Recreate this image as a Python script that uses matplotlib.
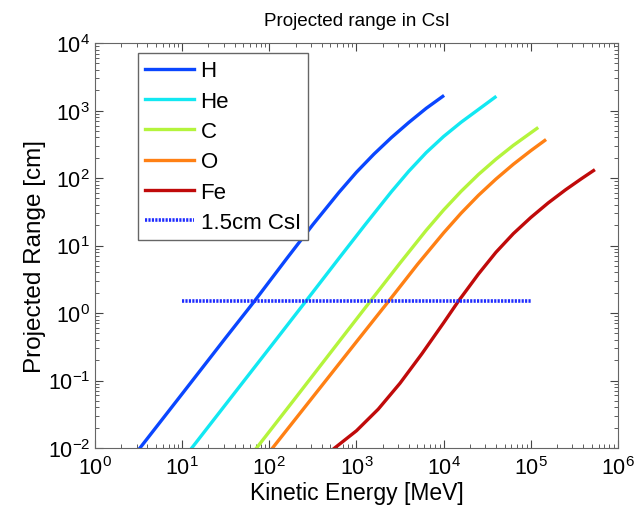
import numpy as np
import matplotlib
matplotlib.use("Agg")
import matplotlib.pyplot as plt

plt.rcParams['font.family'] = ['Liberation Sans', 'DejaVu Sans']
plt.rcParams['mathtext.fontset'] = 'custom'
plt.rcParams['mathtext.rm'] = 'Liberation Sans'
plt.rcParams['mathtext.it'] = 'Liberation Sans'

# kinetic energy [MeV] and projected range [cm]
h_energy = [3.28, 10, 31.6, 67.6, 158, 316, 631, 1000, 1585, 2512, 3981, 6310, 9772]
h_range = [0.01, 0.0635, 0.430, 1.50, 6.38, 20.4, 61.5, 122, 226, 397, 665, 1079, 1622]

he_energy = [12.9, 39.8, 126, 263, 631, 1259, 2512, 3981, 6310, 10000, 15849, 25119, 38905]
he_range = [0.01, 0.0650, 0.440, 1.50, 6.49, 20.4, 62.5, 126, 238, 413, 670, 1038, 1574]

c_energy = [71.4, 200, 631, 1445, 3162, 6310, 10000, 15849, 25119, 39811, 63096, 117490]
c_range = [0.01, 0.0553, 0.377, 1.50, 5.50, 16.8, 33.6, 63.4, 113, 190, 305, 543]

o_energy = [109, 316, 1000, 2344, 5012, 10000, 15849, 25119, 39811, 63096, 100000, 144544]
o_range = [0.01, 0.0570, 0.375, 1.50, 5.25, 15.4, 30.1, 55.5, 96.4, 160, 254, 360]

fe_energy = [562, 1000, 1778, 3162, 5623, 10000, 14791, 25119, 39811, 63096, 100000,
             158489, 251189, 380189, 524807]
fe_range = [0.01, 0.0180, 0.0376, 0.0912, 0.248, 0.716, 1.50, 3.79, 7.93, 15.0, 26.0,
            42.8, 67.1, 97.5, 129]

csi_energy = [10, 100000]
csi_range = [1.5, 1.5]

series = [
    ("H", h_energy, h_range, "#0a46ff"),
    ("He", he_energy, he_range, "#12e8f2"),
    ("C", c_energy, c_range, "#b4f43c"),
    ("O", o_energy, o_range, "#ff8014"),
    ("Fe", fe_energy, fe_range, "#c00a0a"),
]

fig = plt.figure(figsize=(6.44, 5.10), dpi=100)
ax = fig.add_axes([0.1475, 0.1196, 0.812, 0.794])

for name, e, r, col in series:
    ax.plot(e, r, color=col, lw=2.4, label=name)
ax.plot(csi_energy, csi_range, color="#1f2cff", lw=2.6, ls=(0, (0.6, 0.35)),
        label="1.5cm CsI")

ax.set_xscale("log")
ax.set_yscale("log")
ax.set_xlim(1, 1e6)
ax.set_ylim(1e-2, 1e4)

ax.tick_params(which="both", direction="in", top=True, right=True,
               colors="#444444", labelcolor="black", labelsize=15.5)
ax.tick_params(which="major", length=5.5)
ax.tick_params(which="minor", length=2.8)
ax.tick_params(axis="x", pad=6)
for sp in ax.spines.values():
    sp.set_color("#666666")

ax.set_title("Projected range in CsI", fontsize=13.6, pad=13)
ax.set_xlabel("Kinetic Energy [MeV]", fontsize=16.5, labelpad=1)
ax.set_ylabel("Projected Range [cm]", fontsize=17.5)
ax.yaxis.set_label_coords(-0.094, 0.475)

leg = ax.legend(loc="upper left", bbox_to_anchor=(0.082, 0.975), fontsize=16,
                handlelength=2.2, labelspacing=0.42, borderpad=0.32,
                borderaxespad=0, handletextpad=0.3, fancybox=False, framealpha=1)
leg.get_frame().set_edgecolor("#666666")
leg.get_frame().set_linewidth(1.0)

fig.savefig("out.png", dpi=100)
